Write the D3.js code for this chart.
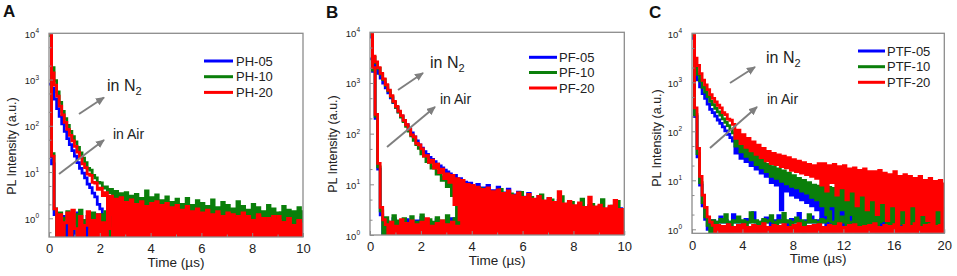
<!DOCTYPE html>
<html><head><meta charset="utf-8">
<script src="https://cdn.jsdelivr.net/npm/d3@7"></script>
<style>
body{margin:0;background:#fff}
svg text{font-family:"Liberation Sans",Arial,sans-serif}
</style>
</head><body>
<svg id="c" width="957" height="276"></svg>
<script>
// ---------------- DATA (PL intensity, a.u.) ----------------
// Panel A: PH series, sampled every 0.1 µs from 0 to 10 µs
const phN2_05 = [800,650,380,235,160,110,76,53,39,29,22,16,12,9.5,7.5,5.5,4.6,3.5,2.9,2.0,1.6,0,1.2,0.6,1.4,0,1.0,0.7,0,0.9,0,
0.8,0,1.2,0,0.9,0,1.3,0,0.7,0,1.1,0,0.8,0,1.4,0,0.9,0,1.2,0,0.7,0,1.0,0,1.3,0,0.8,0,1.1,0,0.9,0,1.2,0,0.7,0,1.3,0,0.8,0,1.0,0,1.4,0,0.9,0,1.1,0,0.7,0,1.2,0,0.9,0,1.3,0,0.8,0,1.0,0,1.2,0,0.7,0,1.1,0,0.9,0,1.0,0];
const phN2_10 = [9000,1800,950,540,320,205,142,102,76,58,45,34,26,20,16,12,11,8.5,7.5,6,5.8,4.5,4.8,3.6,4.2,2.5,3.8,1.5,3.4,2.0,3.6,0,3.0,1.2,3.3,0,2.7,1.0,3.9,0,2.8,
0,3.2,0,2.4,0,2.9,0,2.2,0,2.6,0,2.0,0,2.7,0,1.9,0,2.4,0,2.1,0,1.8,0,2.5,0,1.7,0,2.2,0,1.9,0,1.6,0,2.3,0,1.8,0,1.5,0,2.0,0,1.7,0,1.4,0,1.9,0,1.6,0,1.3,0,1.8,0,1.5,0,1.4,0,1.7,0,1.5];
const phN2_20 = [10000,1400,760,440,265,172,118,84,62,47,36,27,21,15,12.5,9,8.5,6,5.8,4.2,4.5,3.1,3.6,1.2,3.0,0,2.6,0.6,2.8,0,2.2,0,2.5,0.7,2.0,0,2.3,0,1.8,0,2.1,
0,2.3,0,1.9,0,2.1,0,1.7,0,1.9,0,1.5,0,1.8,0,1.4,0,1.6,0,1.3,0,1.5,0,1.2,0,1.4,0,1.1,0,1.3,0,1.2,0,1.0,0,1.3,0,1.1,0,0.9,0,1.2,0,1.0,0,0.8,0,1.1,0,0.9,0,0.8,0,1.0,0,0.7,0,0.9,0,0.8];
const phAir_05 = [9000,15,1.2,0,0.9,1.1,0,0.7,1.2,0, 0.8,1.3,0,0.9,0,1.1,0.6,0,1.2,0.8, 0,1.0,0.7,0,1.3,0,0.9,0.6,0,1.1, 0,0.8,1.2,0,0.9,0,1.0,0.7,0,1.2, 0,0.9,0,1.1,0.6,0,1.0,0,0.8,1.2, 0,0.9,0,1.1,0,0.7,1.0,0,1.2,0, 0.8,0,1.1,0.6,0,1.0,0,1.2,0,0.9, 0,1.1,0.7,0,1.0,0,1.2,0,0.8,0, 1.0,0,1.1,0.6,0,0.9,0,1.2,0,1.0, 0,0.8,1.1,0,0.9,0,1.2,0,1.0,0,0.9];
const phAir_10 = [9000,25,1.6,0,1.3,0,1.0,1.4,0,0.8, 1.2,0,1.5,0,0.9,1.1,0,1.3,0,0.7, 1.2,0,1.4,0.8,0,1.1,0,1.3,0,1.0, 0,1.2,0,0.9,1.4,0,1.1,0,1.3,0, 1.0,0,1.2,0,0.8,1.3,0,1.1,0,1.4, 0,1.0,0,1.2,0.7,0,1.3,0,1.0,0, 1.2,0,0.9,1.3,0,1.1,0,1.4,0,1.0, 0,1.2,0,0.8,1.1,0,1.3,0,1.0,0, 1.2,0,1.4,0,0.9,1.1,0,1.2,0,1.0, 0,1.3,0,0.9,1.1,0,1.2,0,1.0,0,1.1];
const phAir_20 = [10000,22,1.6,0,1.2,0,0.8,1.3,0,1.5, 0.6,0,1.1,0,0.7,1.4,0,0.9,0,1.2, 0,0.8,0,1.3,0.6,0,1.1,0,0.9,0, 1.2,0,0.7,0,1.0,0,1.3,0,0.8,0, 1.1,0,0.9,0,1.2,0,0.7,0,1.0,0, 1.1,0,0.8,0,1.2,0,0.9,0,1.0,0, 0.7,0,1.1,0,0.9,0,1.2,0,0.8,0, 1.0,0,0.7,0,1.1,0,0.9,0,1.0,0, 0.8,0,1.1,0,0.7,0,1.0,0,0.9,0, 1.1,0,0.8,0,1.0,0,0.7,0,0.9,0,0.8];

// Panel B: PF series, sampled every 0.1 µs from 0 to 10 µs
const pfN2_05 = [3000,2300,1900,1550,1250,1000,800,640,510,410,330,270,222,182,150,124,103,86,72,60,52,44,39,34,31,28,25,23,21,19,17.5,16,14,15,12,13,10,11,9,10.5,8,
0,10,0,8.5,0,9.5,0,7.5,0,8.8,0,6.8,0,8.0,0,6.2,0,7.0,0,5.6,0,6.6,0,5.0,0,5.8,0,4.6,0,5.2,0,4.2,0,4.8,0,3.9,0,4.4,0,3.6,0,4.1,0,3.4,0,3.8,0,3.2,0,3.6,0,3.1,0,3.5,0,3.0,0,3.3,0,3.0];
const pfN2_10 = [9000,3200,2500,1950,1500,1160,900,700,540,420,330,265,213,172,140,112,91,74,61,51,40,36,28,27,21,22,16,18,12,14,9,12,6,11,2,10,0,9,0,8,0,
7.5,0,8.2,0,6.8,0,7.0,0,6.2,0,7.9,0,5.6,0,6.5,0,5.2,0,6.9,0,4.8,0,5.5,0,4.5,0,6.2,0,4.2,0,4.9,0,3.9,0,5.7,0,3.6,0,4.4,0,3.5,0,5.1,0,3.3,0,4.0,0,3.2,0,5.0,0,3.1,0,3.7,0,4.6,0,3.0,0];
const pfN2_20 = [10000,3400,2600,2000,1550,1200,930,720,560,435,345,278,226,183,150,122,95,86,64,60,50,36,37,27,30,21,25,17,20,13,16,11,15,4,13,2,12,0,10,0,9.5,
0,8.8,0,7.9,0,8.5,0,7.2,0,7.8,0,6.6,0,7.4,0,6.0,0,6.8,0,5.5,0,6.3,0,5.1,0,5.8,0,4.7,0,5.3,0,4.4,0,7.2,0,4.1,0,4.6,0,3.8,0,4.3,0,3.5,0,5.6,0,3.6,0,3.9,0,3.3,0,3.7,0,4.8,0,3.2,0,3.4];
const pfAir_05 = [8000,1700,200,20,2.5,0,
1.9,0,1.7,2.1,0,1.8,0,1.6,2.0,0, 1.7,0,1.9,0,2.2,1.6,0,1.8,0,1.7, 2.0,0,1.8,0,1.6,0,2.1,1.7,0,1.9, 0,1.8,0,1.6,2.0,0,1.7,0,1.9,0, 1.8,1.6,0,2.1,0,1.7,0,1.9,0,1.6, 1.8,0,2.0,0,1.7,1.9,0,1.6,0,1.8, 0,2.1,1.7,0,1.8,0,1.6,0,1.9,0, 1.7,2.0,0,1.8,0,1.6,0,1.9,0,1.7, 1.8,0,2.0,0,1.6,0,1.8,1.7,0,1.9, 0,1.7,1.8,0,1.6];
const pfAir_10 = [9000,1800,220,22,3,0,
2.2,0,1.8,2.4,0,1.9,0,2.1,1.7,0, 2.3,0,1.8,0,2.5,1.9,0,2.0,0,1.8, 2.2,0,1.9,0,2.4,0,1.8,2.1,0,1.9, 0,2.3,0,1.8,2.0,0,2.2,0,1.9,0, 2.4,1.8,0,2.1,0,1.9,0,2.3,0,1.8, 2.0,0,2.2,0,1.9,2.4,0,1.8,0,2.1, 0,1.9,2.3,0,1.8,0,2.0,0,2.2,0, 1.9,2.1,0,1.8,0,2.4,0,1.9,0,2.0, 1.8,0,2.2,0,1.9,0,2.3,1.8,0,2.0, 0,1.9,2.1,0,1.8];
const pfAir_20 = [10000,2000,240,26,3.5,2.0,
1.6,0,1.8,0,1.5,0,2.0,0,1.7,0, 1.9,0,1.6,0,1.8,0,2.1,0,1.5,0, 1.7,0,1.9,0,1.6,0,1.8,0,1.5,0, 2.0,0,1.7,0,1.6,0,1.9,0,1.5,0, 1.8,0,1.6,0,2.0,0,1.7,0,1.5,0, 1.9,0,1.6,0,1.8,0,1.5,0,1.7,0, 2.0,0,1.6,0,1.8,0,1.5,0,1.9,0, 1.7,0,1.6,0,1.8,0,1.5,0,2.0,0, 1.6,0,1.7,0,1.9,0,1.5,0,1.8,0, 1.6,0,1.7,0,1.5];

// Panel C: PTF series, sampled every 0.2 µs from 0 to 20 µs
const ptfN2_05 = [8000,1600,1120,810,590,470,360,280,240,205,170,145,123,102,87,74,
63,36,45,28,37,24,31,20,26,17,22,14,19,12,16,
9,14,8,12,2.5,10.8,6,9.5,5,8.3,4.5,7.2,4,6.3,3.5,5.6,3,5.1,2.5,4.8,
1.5,5.5,0,5,2,5.5,0,4.5,1.2,5,0,4,1,4.5,0,3.5,1.2,4.2,0,3,
1.5,3.5,0,2.8,1,3.2,0,2.5,1.2,2.2,0,2.8,0.9,2,0,2.4,1,1.8,0,2.2,0.9,1.7,0,2,1,1.6,0,1.9,0.9,1.5];
const ptfN2_10 = [9000,2000,1450,1070,790,630,510,410,350,295,250,215,180,152,130,110,
93,50,66,38,54,31,45,26,37,21,31,18,26,15,21,
12,19,11,17,9.5,15.5,8.5,14,7.5,12.5,7,11,6,10,5.5,9,4.5,8,4,7.6,
3,7.5,2,7.2,3,6.8,1.5,7,2.5,6.2,1.2,6,2,5.5,0,5.2,1.5,5,0,4.8,
1.2,4.5,0,4.8,1.5,4.2,0,3.9,1,4.4,0,3.6,1.3,3.5,0,3.9,1,3.2,0,3.6,1.2,3,0,3.4,0.9,2.8,0,3.1,1,2.9];
const ptfN2_20 = [10000,3100,2200,1500,1100,890,710,560,470,400,340,300,240,220,178,168,
138,72,105,56,85,47,72,40,61,34,52,29,45,25,39,
22,35.5,21,33,19,31,18,29,16,26.5,15,24.5,14,23,13,21,12,20,11,22,
8,22,6,20,9,21,5,19,7,20,4,17,6,18,3,16,5,17,2.5,15,
4,15,2,16,3.5,14,1.5,13,3,15,0,12,2.5,13,1.2,12,3,11,0,12,2,10,1.5,11,0,9.5,2.5,10,0,9];
const ptfAir_05 = [8000,200,30,8,3,1.6,1.0,
1.4,1.5,0,1.4,1.8,1.4,1.5,0,1.4,2.0, 1.4,1.5,1.4,0,1.6,1.4,1.5,2.2,1.4,0, 1.4,1.5,1.7,1.4,0,1.5,1.4,1.9,1.4,1.5, 0,1.4,1.6,1.4,1.5,2.1,1.4,0,1.5,1.4, 1.8,1.4,1.5,0,1.4,1.6,1.5,1.4,0,2.0, 1.4,1.5,1.4,0,1.7,1.4,1.5,1.4,0,1.9, 1.4,1.5,0,1.4,1.6,1.4,2.2,1.5,0,1.4, 1.5,1.8,1.4,0,1.5,1.4,1.6,1.4,0,1.5, 2.0,1.4,1.5,0,1.4,1.7,1.4,1.5,0,1.4, 1.6,1.5,0,1.4];
const ptfAir_10 = [9000,220,35,9,3.5,1.8,1.2,0,
1.5,0,1.4,1.6,1.4,2.0,1.4,0,1.5,1.4, 1.8,1.4,1.5,0,1.4,2.2,1.4,1.5,0,1.4, 1.6,1.4,1.5,1.9,1.4,0,1.5,1.4,2.1,1.4, 1.5,0,1.4,1.7,1.4,1.5,0,1.4,2.0,1.4, 1.5,1.4,0,1.6,1.4,1.5,2.3,1.4,0,1.5, 1.4,1.8,1.4,1.5,0,1.4,1.9,1.4,1.5,0, 1.4,1.6,1.4,2.1,1.5,0,1.4,1.5,1.8,1.4, 0,1.5,1.4,2.0,1.4,1.5,0,1.4,1.7,1.4, 1.5,0,1.4,1.9,1.4,1.5,0,1.4,1.6,1.4, 1.5,0,1.4];
const ptfAir_20 = [10000,300,45,12,5,2.8,1.8,1.4,1.2,0,
1.2,0,1.15,0,1.25,0,1.1,0,1.2,0, 1.25,0,1.1,0,1.2,0,1.15,0,1.3,0, 1.1,0,1.2,0,1.15,0,1.25,0,1.1,0, 1.2,0,1.3,0,1.1,0,1.15,0,1.2,0, 1.25,0,1.1,0,1.2,0,1.15,0,1.3,0, 1.1,0,1.2,0,1.25,0,1.1,0,1.15,0, 1.2,0,1.3,0,1.1,0,1.2,0,1.15,0, 1.25,0,1.1,0,1.2,0,1.15,0,1.3,0, 1.1,0,1.2,0,1.25,0,1.15,0,1.2,0, 1.1];

// Tick labels / names
const legendA = ["PH-05","PH-10","PH-20"];
const legendB = ["PF-05","PF-10","PF-20"];
const legendC = ["PTF-05","PTF-10","PTF-20"];
const xTicksAB = [0,2,4,6,8,10];
const xMinorAB = [1,3,5,7,9];
const xTicksC = [0,4,8,12,16,20];
const xMinorC = [2,6,10,14,18];
const yExponents = [0,1,2,3,4];

// ---------------- LAYOUT / STYLE ----------------
const colors = ["#0000ff","#0a7f0a","#ff0000"];
const axisGray = "#8c8c8c";
const arrowGray = "#7f7f7f";

const panels = [
  {letter:"A", lx:3, ly:17, names:legendA, n2:[phN2_05,phN2_10,phN2_20], air:[phAir_05,phAir_10,phAir_20],
   step:0.1, xMax:10, xT:xTicksAB, xM:xMinorAB, l:49, r:303, t:33.3, b:237, yMin:0.394,
   ytx:16, yty:146, tty:267,
   leg:{x1:204,x2:233,tx:236,ys:[61,76.7,92.4]},
   n2Text:[107,91], airText:[113,139], n2Arrow:[79,114,104,97.5], airArrow:[59,174,104,140]},
  {letter:"B", lx:326, ly:18, names:legendB, n2:[pfN2_05,pfN2_10,pfN2_20], air:[pfAir_05,pfAir_10,pfAir_20],
   step:0.1, xMax:10, xT:xTicksAB, xM:xMinorAB, l:370, r:624.3, t:32.3, b:235, yMin:1,
   ytx:337, yty:144, tty:265,
   leg:{x1:529,x2:557,tx:559,ys:[57.3,72.5,88]},
   n2Text:[430,68], airText:[440,104], n2Arrow:[398,90,423,73], airArrow:[387,147,435,107]},
  {letter:"C", lx:649, ly:18, names:legendC, n2:[ptfN2_05,ptfN2_10,ptfN2_20], air:[ptfAir_05,ptfAir_10,ptfAir_20],
   step:0.2, xMax:20, xT:xTicksC, xM:xMinorC, l:692, r:944.3, t:33.3, b:233.3, yMin:0.829,
   ytx:661, yty:138, tty:263,
   leg:{x1:858,x2:885,tx:887,ys:[51,66.7,82.3]},
   n2Text:[766,63], airText:[767,104], n2Arrow:[730,83,755,67], airArrow:[710,148,757,107]}
];

const svg = d3.select("#c");
const defs = svg.append("defs");
defs.append("marker").attr("id","ah").attr("markerUnits","userSpaceOnUse")
  .attr("markerWidth",9).attr("markerHeight",8).attr("refX",8).attr("refY",4)
  .attr("orient","auto")
  .append("path").attr("d","M0,0 L9,4 L0,8 Z").attr("fill",arrowGray);

panels.forEach(p => {
  const x = d3.scaleLinear().domain([0,p.xMax]).range([p.l,p.r]);
  const y = d3.scaleLog().domain([p.yMin,1e4]).range([p.b,p.t]);
  const clipId = "clip"+p.letter;
  defs.append("clipPath").attr("id",clipId).append("rect")
    .attr("x",p.l).attr("y",p.t).attr("width",p.r-p.l).attr("height",p.b-p.t);

  const g = svg.append("g");
  const line = d3.line()
    .x((d,i)=>x(i*p.step))
    .y(d=>y(Math.max(d,p.yMin)))
    .curve(d3.curveStepAfter);

  const plot = g.append("g").attr("clip-path",`url(#${clipId})`);
  [0,1,2].forEach(k => {
    [p.air[k], p.n2[k]].forEach(series => {
      plot.append("path").datum(series)
        .attr("d",line).attr("fill","none")
        .attr("stroke",colors[k]).attr("stroke-width",2.8);
    });
  });

  // frame
  g.append("rect").attr("x",p.l).attr("y",p.t).attr("width",p.r-p.l).attr("height",p.b-p.t)
    .attr("fill","none").attr("stroke",axisGray).attr("stroke-width",1.3);

  // y axis ticks (inward)
  const yMajor = yExponents.map(e=>Math.pow(10,e));
  const yMinor = [];
  yExponents.forEach(e=>{[2,5].forEach(m=>{const v=m*Math.pow(10,e-1); if(v>=p.yMin) yMinor.push(v);});});
  g.append("g").attr("transform",`translate(${p.l},0)`)
    .call(d3.axisLeft(y).tickValues(yMajor).tickSize(-4).tickSizeOuter(0).tickFormat(""))
    .call(s=>{s.select(".domain").remove(); s.selectAll("line").attr("stroke",axisGray);});
  g.append("g").attr("transform",`translate(${p.l},0)`)
    .call(d3.axisLeft(y).tickValues(yMinor).tickSize(-2.5).tickSizeOuter(0).tickFormat(""))
    .call(s=>{s.select(".domain").remove(); s.selectAll("line").attr("stroke",axisGray);});
  // y tick labels 10^n
  yExponents.forEach(e=>{
    const tx = g.append("text").attr("x",p.l-10).attr("y",y(Math.pow(10,e))+4.5)
      .attr("text-anchor","end").attr("font-size",9.5).attr("fill","#222");
    tx.append("tspan").text("10");
    tx.append("tspan").attr("dy",-4.5).attr("font-size",6.5).text(String(e));
  });

  // x axis
  g.append("g").attr("transform",`translate(0,${p.b})`)
    .call(d3.axisBottom(x).tickValues(p.xT).tickSize(-4).tickSizeOuter(0).tickPadding(7).tickFormat(d3.format("d")))
    .call(s=>{s.select(".domain").remove(); s.selectAll("line").attr("stroke",axisGray);
      s.selectAll("text").attr("font-size",13).attr("fill","#222")
       .attr("font-family",'"Liberation Sans",Arial,sans-serif');});
  g.append("g").attr("transform",`translate(0,${p.b})`)
    .call(d3.axisBottom(x).tickValues(p.xM).tickSize(-2.5).tickSizeOuter(0).tickFormat(""))
    .call(s=>{s.select(".domain").remove(); s.selectAll("line").attr("stroke",axisGray);});

  // axis titles
  g.append("text").attr("x",(p.l+p.r)/2).attr("y",p.tty).attr("text-anchor","middle")
    .attr("font-size",13.5).attr("fill","#222").text("Time (µs)");
  g.append("text").attr("transform",`translate(${p.ytx},${p.yty}) rotate(-90)`)
    .attr("text-anchor","middle").attr("font-size",12.5).attr("fill","#222").text("PL Intensity (a.u.)");

  // panel letter
  g.append("text").attr("x",p.lx).attr("y",p.ly).attr("font-size",17).attr("font-weight","bold")
    .attr("fill","#111").text(p.letter);

  // legend
  p.names.forEach((nm,k)=>{
    g.append("line").attr("x1",p.leg.x1).attr("x2",p.leg.x2).attr("y1",p.leg.ys[k]).attr("y2",p.leg.ys[k])
      .attr("stroke",colors[k]).attr("stroke-width",3);
    g.append("text").attr("x",p.leg.tx).attr("y",p.leg.ys[k]+4.6).attr("font-size",13)
      .attr("fill","#222").text(nm);
  });

  // annotations
  const tN = g.append("text").attr("x",p.n2Text[0]).attr("y",p.n2Text[1]).attr("font-size",16).attr("fill","#222");
  tN.append("tspan").text("in N");
  tN.append("tspan").attr("dy",4).attr("font-size",11).text("2");
  g.append("text").attr("x",p.airText[0]).attr("y",p.airText[1]).attr("font-size",14).attr("fill","#222").text("in Air");
  [p.n2Arrow,p.airArrow].forEach(a=>{
    g.append("line").attr("x1",a[0]).attr("y1",a[1]).attr("x2",a[2]).attr("y2",a[3])
      .attr("stroke",arrowGray).attr("stroke-width",2).attr("marker-end","url(#ah)");
  });
});
</script>
</body></html>
